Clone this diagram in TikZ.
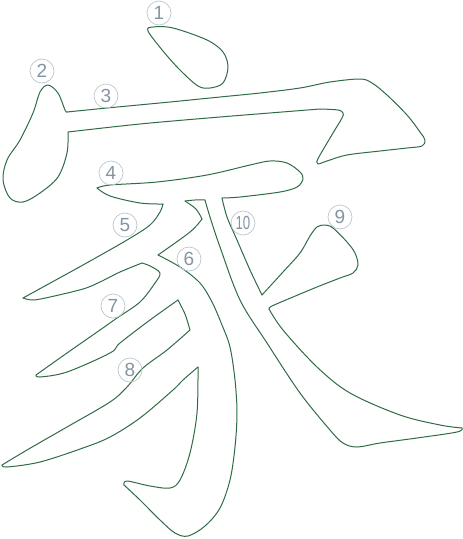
\documentclass[tikz,border=0pt]{standalone}
\usepackage{fontspec}
\setmainfont{Liberation Sans}
\definecolor{strokegreen}{HTML}{2F6B45}
\definecolor{numgray}{HTML}{8494A2}
\definecolor{ringgray}{HTML}{BCC6CC}
\begin{document}
\begin{tikzpicture}[x=1pt,y=-1pt,
  outl/.style={draw=strokegreen,line width=1pt,line join=round,line cap=round},
  num/.style={circle,draw=ringgray,line width=0.7pt,minimum size=24pt,inner sep=0pt,text=numgray,font=\fontsize{19}{19}\selectfont},
  sm/.style={smooth,tension=0.55}]
\useasboundingbox (0,0) rectangle (463,539);

% stroke 1
\draw[outl] plot[smooth cycle,tension=0.55] coordinates {(148,31) (153,27) (173,28) (207,40) (223,52) (228,67) (223,83) (210,88) (198,86) (180,70) (163,51)};

% strokes 2 + 3
\draw[outl] plot[sm] coordinates {(67,112) (107,108) (170,102) (220,97) (260,93) (300,88) (330,82) (360,79) (372,83) (387,95) (407,115) (420,132) (425,140) (422,146) (407,148) (380,151) (347,155) (327,161) (318,164) (317,161)};
\draw[outl] plot[sm] coordinates {(317,161) (320,155) (333,133) (342,118) (343,113) (338,110) (320,109)};
\draw[outl] plot[sm] coordinates {(320,109) (220,117) (140,124) (68,132)};
\draw[outl] plot[sm] coordinates {(68,132) (67,153) (58,177) (40,193) (23,202) (10,198) (3,180) (7,160) (20,140) (33,113) (40,92) (48,85) (58,93) (65,110) (67,112)};

% strokes 4 - 10 (one outline)
\draw[outl] plot[sm] coordinates {(97,188) (110,185) (157,182) (207,175) (250,165) (270,161) (287,163) (300,172) (303,179) (297,187) (280,192) (240,197) (222,198)};
\draw[outl] plot[sm] coordinates {(222,198) (227,217) (237,240) (250,270) (262,295)};
\draw[outl] plot[sm] coordinates {(262,295) (283,272) (300,253) (310,236) (317,227) (325,225) (333,228) (347,242) (355,253) (358,265) (353,273) (340,278) (317,287) (293,297) (272,306) (269,309)};
\draw[outl] plot[sm] coordinates {(269,309) (283,330) (317,367) (350,393) (400,415) (440,425) (462,428)};
\draw[outl] plot[sm] coordinates {(462,428) (457,432) (417,438) (380,443) (357,447) (343,443) (330,430) (300,393) (267,343) (240,300) (220,247) (210,217) (205,200)};
\draw[outl] plot[sm] coordinates {(205,200) (195,200) (185,201)};
\draw[outl] plot[sm] coordinates {(185,201) (196,209) (202,219)};
\draw[outl] plot[sm] coordinates {(202,219) (190,232) (158,255)};
\draw[outl] plot[sm] coordinates {(158,255) (180,267) (200,283) (212,302) (222,325) (230,347) (235,380) (237,413) (235,447) (230,480) (220,508) (205,526) (188,536) (175,533) (160,520) (140,500) (124,485)};
\draw[outl] plot[sm] coordinates {(124,485) (127,481) (150,486) (170,488) (180,480) (190,453) (197,413) (198,367)};
\draw[outl] plot[sm] coordinates {(198,367) (183,380) (173,390) (140,418) (110,437) (83,448) (40,462) (7,467) (2,465)};
\draw[outl] plot[sm] coordinates {(2,465) (27,450) (67,427) (110,402) (127,387) (143,368) (167,350) (190,330)};
\draw[outl] plot[sm] coordinates {(190,330) (185,314) (178,300)};
\draw[outl] plot[sm] coordinates {(178,300) (150,320) (120,343) (110,353) (67,372) (40,377) (36,375)};
\draw[outl] plot[sm] coordinates {(36,375) (43,370) (67,353) (100,330) (117,318) (140,302) (155,283) (160,273) (150,266) (142,263)};
\draw[outl] plot[sm] coordinates {(142,263) (120,272) (100,282) (83,289) (50,297) (33,300) (23,298)};
\draw[outl] plot[sm] coordinates {(23,298) (43,287) (83,265) (127,240) (150,225) (160,212) (163,204)};
\draw[outl] plot[sm] coordinates {(163,204) (140,203) (110,196) (97,188)};

% numbers
\node[num] (n1) at (159,13) {1};
\node[num] (n2) at (42,71) {2};
\node[num] (n3) at (106,96) {3};
\node[num] (n4) at (111,173) {4};
\node[num] (n5) at (125,225) {5};
\node[num] (n6) at (189,259) {6};
\node[num] (n7) at (113,306) {7};
\node[num] (n8) at (130,370) {8};
\node[num] (n9) at (340,217) {9};
\node[num] (n10) at (243,223) {\scalebox{0.7}[1]{10}};
\end{tikzpicture}
\end{document}
